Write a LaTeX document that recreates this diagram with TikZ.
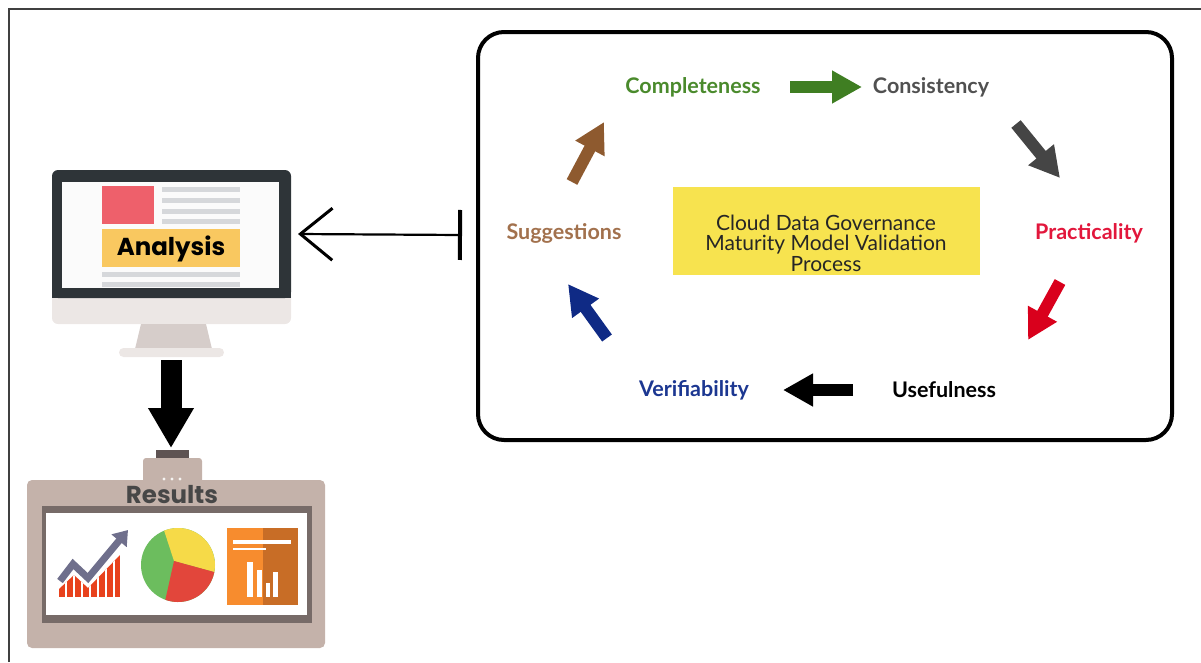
\documentclass[tikz,border=0pt]{standalone}
\usepackage{fontspec}
\setmainfont{Lato}
\newfontfamily\headfont{Poppins}
\usetikzlibrary{arrows.meta,calc}

% palette
\definecolor{cgreen}{HTML}{4A8A2C}
\definecolor{cgreenarrow}{HTML}{3F7E22}
\definecolor{cgray}{HTML}{505050}
\definecolor{cgrayarrow}{HTML}{454545}
\definecolor{cred}{HTML}{E2173C}
\definecolor{credarrow}{HTML}{D9001C}
\definecolor{cblue}{HTML}{1C3791}
\definecolor{cbluearrow}{HTML}{0F2A85}
\definecolor{cbrown}{HTML}{A2714D}
\definecolor{cbrownarrow}{HTML}{8E5A2F}
\definecolor{cyellowbox}{HTML}{F7E34F}
\definecolor{bezel}{HTML}{2E3438}
\definecolor{screenbg}{HTML}{FBFBFB}
\definecolor{chin}{HTML}{ECE7E5}
\definecolor{neck}{HTML}{D6CDCA}
\definecolor{docred}{HTML}{EE606B}
\definecolor{docline}{HTML}{D6D8DB}
\definecolor{docyellow}{HTML}{F9C860}
\definecolor{devbody}{HTML}{C4B2AA}
\definecolor{devframe}{HTML}{776B68}
\definecolor{devplug}{HTML}{5E5352}
\definecolor{chartred}{HTML}{E8421D}
\definecolor{chartarrow}{HTML}{6F6F8C}
\definecolor{pieyellow}{HTML}{F6DA48}
\definecolor{piered}{HTML}{E2463B}
\definecolor{piegreen}{HTML}{6CBD5E}
\definecolor{orangelight}{HTML}{F78C2E}
\definecolor{orangedark}{HTML}{C86D26}

\tikzset{
  steplabel/.style={font=\fontsize{21.5}{23}\selectfont\bfseries, inner sep=0pt},
  cyclearrow/.style={line width=12pt, -{Triangle[length=30pt,width=31pt]}},
  headlabel/.style={font=\headfont\fontsize{24.5}{26}\selectfont\bfseries, inner sep=0pt},
}

\begin{document}
\begin{tikzpicture}[x=1pt,y=-1pt]
\useasboundingbox (0,0) rectangle (1201,662);

% page frame
\draw[line width=1.3pt, black!75] (9,662) -- (9,9) -- (1201,9);

% ---------- validation cycle ----------
\draw[line width=4pt, rounded corners=26pt] (478,32) rectangle (1172,440);

\node[fill=cyellowbox, minimum width=307pt, minimum height=88pt, inner sep=0pt] (govbox) at (826.5,231) {};
\node[align=center, font=\fontsize{21}{20.5}\selectfont, text=black!85, inner sep=0pt] (govtext) at (826,243)
  {Cloud Data Governance\\Maturity Model Validation\\Process};

\node[steplabel, text=cgreen] (compl) at (693,87) {Completeness};
\node[steplabel, text=cgray] (consi) at (931,87) {Consistency};
\node[steplabel, text=cred] (pract) at (1089,233) {Practicality};
\node[steplabel, text=black] (usef) at (944,390) {Usefulness};
\node[steplabel, text=cblue] (verif) at (694,390) {Verifiability};
\node[steplabel, text=cbrown] (sugg) at (564,233) {Suggestions};

\coordinate (a1s) at (790,87);   \coordinate (a1e) at (862,87);
\coordinate (a2s) at (1016,124); \coordinate (a2e) at (1060,178);
\coordinate (a3s) at (1060,282); \coordinate (a3e) at (1028,340);
\coordinate (a4s) at (853,390);  \coordinate (a4e) at (783,390);
\coordinate (a5s) at (607,338);  \coordinate (a5e) at (568,284);
\coordinate (a6s) at (572,182);  \coordinate (a6e) at (604,122);

\draw[cyclearrow, cgreenarrow] (a1s) -- (a1e);
\draw[cyclearrow, cgrayarrow] (a2s) -- (a2e);
\draw[cyclearrow, credarrow] (a3s) -- (a3e);
\draw[cyclearrow, black] (a4s) -- (a4e);
\draw[cyclearrow, cbluearrow] (a5s) -- (a5e);
\draw[cyclearrow, cbrownarrow] (a6s) -- (a6e);

% ---------- monitor ----------
\fill[chin, rounded corners=6pt] (52,285) rectangle (291,324);
\fill[bezel, rounded corners=6pt] (52,170) rectangle (291,298);
\fill[bezel] (52,285) rectangle (291,298);
\fill[screenbg] (62,182) rectangle (279,288);
\fill[docred] (102,186) rectangle (154,224);
\foreach \yy in {187,198,209,219}
  \fill[docline] (162,\yy) rectangle (240,\yy+5);
\fill[docyellow] (102,229) rectangle (240,267);
\node[headlabel, text=black] (analysis) at (171,249) {Analysis};
\fill[docline] (102,272) rectangle (240,277);
\fill[docline] (102,282) rectangle (240,287);
\fill[neck] (141,324) -- (206,324) -- (212,349) -- (135,349) -- cycle;
\fill[chin, rounded corners=4.5pt] (119,348) rectangle (224,357);

\coordinate (monright) at (298,234);
\coordinate (cyclebar) at (462,235);
\draw[line width=2.2pt, {Bar[width=50pt,line width=4pt]}-{Straight Barb[length=32pt,width=52pt,line width=3pt]}] (cyclebar) -- (monright);

\coordinate (mdowns) at (171,360);
\coordinate (mdowne) at (171,448);
\draw[line width=21pt, black, -{Triangle[length=40pt,width=43pt]}] (mdowns) -- (mdowne);

% ---------- results device ----------
\fill[devplug] (156,450) rectangle (189,458);
\fill[devbody, rounded corners=3pt] (143,458) rectangle (202,485);
\fill[devbody, rounded corners=5pt] (27,480) rectangle (325,648);
\foreach \xx in {164,172,180}
  \fill[white!85!devbody] (\xx,479) circle[radius=1.6pt];
\node[headlabel, text=black!72] (results) at (172,495) {Results};
\fill[devframe] (42,506) rectangle (312,623);
\fill[white] (46,513) rectangle (307,615);

% rising chart
\begin{scope}
  \clip (59,589) -- (74,575) -- (88,588) -- (120,555) -- (120,597) -- (59,597) -- cycle;
  \fill[chartred] (59,550) rectangle (120,597);
  \foreach \xx in {64.5,72.5,80.5,88.5,96.5,104.5,112.5}
    \fill[white] (\xx,550) rectangle (\xx+2.5,597);
\end{scope}
\draw[chartarrow, line width=7pt, line join=miter, -{Triangle[length=14pt,width=19pt]}]
  (60,581) -- (73,564) -- (88,578) -- (128,530);

% pie chart
\coordinate (pc) at (178,565);
\coordinate (pm) at (174,561);
\fill[piegreen] (pc) circle[radius=37pt];
\fill[pieyellow] (pm) -- ($(pc)+(112:37pt)$) arc[start angle=112,end angle=-11,radius=37pt] -- cycle;
\fill[piered] (pm) -- ($(pc)+(-11:37pt)$) arc[start angle=-11,end angle=-110,radius=37pt] -- cycle;

% report sheet
\fill[orangelight] (227,528) rectangle (263,605);
\fill[orangedark] (263,528) rectangle (298,605);
\fill[white] (233,540) rectangle (291,544);
\fill[white] (233,547.5) rectangle (266,549.5);
\fill[white] (247,562) rectangle (253,597);
\fill[white] (257,570) rectangle (262,597);
\fill[white] (266,583) rectangle (269.5,597);
\fill[white] (273,572) rectangle (278,597);
\end{tikzpicture}
\end{document}
